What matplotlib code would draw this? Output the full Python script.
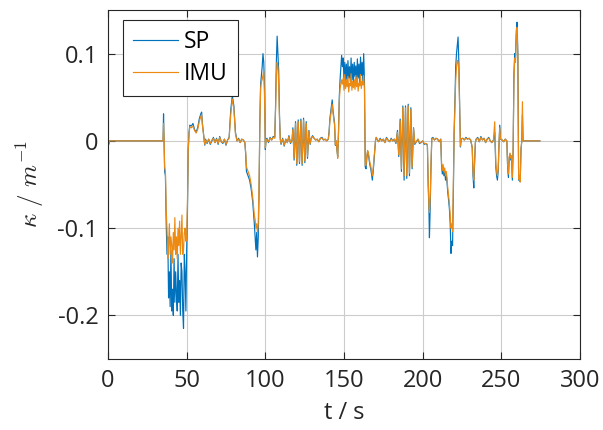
import matplotlib
matplotlib.use("Agg")
import matplotlib.pyplot as plt

plt.rcParams['font.family'] = ['Open Sans', 'DejaVu Sans']
plt.rcParams['mathtext.fontset'] = 'cm'

# time stamps (s)
t = [0, 0.5, 1, 35,
     35.3, 35.7, 36, 36.5, 37, 37.5, 38, 38.5, 39, 39.5, 40, 40.5, 41, 41.5, 42, 42.5, 43, 43.5, 44, 44.5, 45, 45.5, 46, 46.5, 47, 47.5, 48, 48.5, 49, 49.5, 50, 50.5, 51, 51.5,
     52, 53, 54, 55, 56, 57, 58, 59, 59.5, 60, 61, 61.5,
     62, 63, 64, 65, 66, 67, 68, 69, 70, 71, 72, 73, 74, 75, 76, 77,
     78, 79, 80, 81, 82, 83, 84, 85, 86, 87, 87.5,
     88, 89, 90, 91, 92, 93, 93.5, 94, 94.5, 95, 95.5, 96, 96.5, 97, 97.5, 98, 98.5, 99, 99.5, 100, 100.5,
     101, 102, 103, 104, 105, 106, 106.5, 107, 107.5, 108, 108.5, 109, 109.5,
     110, 111, 112, 113, 114, 115, 116, 117,
     117.5, 118.3, 119.2, 120.0, 120.9, 121.7, 122.6, 123.4, 124.3, 125.1, 126.0, 126.8, 127.7, 128.5,
     129, 130, 131, 132, 133, 134, 135, 136, 137, 138, 139, 140, 140.5,
     141, 142, 142.5, 143, 144, 144.5, 145, 145.5, 146, 146.5, 147, 147.5, 148, 148.5,
     149, 149.5, 150, 150.5, 151, 151.5, 152, 152.5, 153, 153.5, 154, 154.5, 155, 155.5, 156, 156.5, 157, 157.5, 158, 158.5, 159, 159.5, 160, 160.5, 161, 161.5, 162, 162.5, 163,
     163.5, 164, 164.5, 165, 165.5, 166, 166.5, 167, 167.5, 168, 168.5, 169, 169.5, 170, 170.5,
     171, 172, 173, 174, 175, 176, 177, 178, 179, 180, 181, 182, 183,
     184.0, 184.8, 185.7, 186.5, 187.4, 188.2, 189.1, 189.9, 190.8, 191.6, 192.5, 193.3, 194.2, 195.0,
     196, 197, 198, 199, 200, 201, 202, 203,
     203.5, 204, 204.3, 204.8, 205.3, 205.8,
     206.5, 207.5, 208.5, 209.5, 210.5, 211.5,
     212, 212.5, 213, 213.5, 214, 214.5, 215, 215.5, 216, 216.5, 217, 217.5, 218, 218.5, 219, 219.5, 220, 220.5, 221, 221.5, 222, 222.5, 223, 223.5, 224, 224.5,
     225.5, 226.5, 227.5, 228.5, 229.5, 230.5, 231.5, 232, 232.5, 233, 233.5,
     234, 235, 236, 237, 238, 239, 240, 241, 242, 243, 244, 245,
     245.8, 246.5, 247, 247.5, 248, 248.5, 249, 249.5, 250.5, 251.5, 252.5, 253.5, 254, 254.5, 255, 255.5, 256, 256.5, 257, 257.5, 258, 258.5, 259, 259.5, 260, 260.5, 261, 261.5, 262, 262.5, 263, 263.4, 263.8, 264.3, 274.5]

# curvature from smartphone (SP)
sp = [0.000, -0.004, 0.000, 0.000,
      0.031, -0.005, -0.035, -0.040, -0.095, -0.130, -0.110, -0.180, -0.150, -0.190, -0.125, -0.195, -0.170, -0.200, -0.135, -0.185, -0.150, -0.175, -0.195, -0.130, -0.185, -0.160, -0.200, -0.140, -0.150, -0.195, -0.215, -0.130, -0.150, -0.195, -0.125, -0.080, -0.010, 0.010,
      0.018, 0.017, 0.020, 0.013, 0.010, 0.015, 0.025, 0.031, 0.033, 0.020, 0.003, -0.005,
      0.002, -0.003, 0.002, -0.004, 0.000, 0.004, -0.002, 0.003, -0.004, 0.005, -0.001, -0.003, 0.002, -0.005, 0.001, 0.004,
      0.035, 0.052, 0.040, 0.010, 0.000, 0.003, -0.002, 0.002, 0.001, -0.002, -0.015,
      -0.035, -0.040, -0.045, -0.055, -0.070, -0.095, -0.110, -0.125, -0.105, -0.133, -0.110, -0.060, 0.020, 0.065, 0.075, 0.085, 0.100, 0.090, 0.060, -0.010, 0.002,
      0.003, -0.002, 0.004, 0.001, 0.005, 0.004, 0.040, 0.090, 0.120, 0.100, 0.080, 0.030, 0.002,
      -0.004, 0.003, -0.006, 0.002, -0.002, 0.006, -0.003, 0.001,
      0.015, -0.022, 0.022, -0.028, 0.024, -0.026, 0.025, -0.028, 0.026, -0.025, 0.022, -0.020, 0.012, -0.004,
      0.002, 0.006, 0.003, 0.001, 0.002, -0.001, 0.003, 0.004, 0.001, 0.002, 0.000, 0.002, 0.010,
      0.025, 0.040, 0.047, 0.035, 0.020, -0.005, 0.000, -0.010, -0.018, 0.010, 0.050, 0.070, 0.085, 0.098,
      0.085, 0.095, 0.068, 0.090, 0.070, 0.088, 0.066, 0.092, 0.072, 0.085, 0.068, 0.095, 0.070, 0.088, 0.066, 0.090, 0.074, 0.086, 0.067, 0.094, 0.072, 0.088, 0.066, 0.096, 0.075, 0.090, 0.068, 0.100, 0.070,
      -0.030, -0.032, -0.020, -0.012, -0.015, -0.022, -0.028, -0.032, -0.038, -0.045, -0.036, -0.025, -0.012, 0.000, 0.004,
      0.002, -0.001, 0.003, 0.000, 0.002, -0.002, 0.004, 0.001, -0.001, 0.003, 0.000, 0.002, -0.003,
      0.012, -0.018, 0.025, -0.035, 0.040, -0.045, 0.040, -0.043, 0.042, -0.040, 0.038, -0.032, 0.015, -0.004,
      -0.001, 0.002, -0.003, -0.002, 0.000, -0.004, -0.003, -0.005,
      -0.050, -0.080, -0.111, -0.075, -0.030, 0.003,
      0.004, 0.001, 0.003, 0.002, -0.001, 0.002,
      -0.028, -0.038, -0.030, -0.040, -0.034, -0.045, -0.038, -0.048, -0.060, -0.068, -0.078, -0.095, -0.129, -0.115, -0.120, -0.060, 0.010, 0.045, 0.085, 0.100, 0.110, 0.119, 0.090, 0.040, -0.007, 0.002,
      0.003, 0.001, 0.004, 0.002, 0.003, 0.001, -0.008, -0.040, -0.054, -0.025, -0.002,
      0.002, 0.004, -0.001, 0.005, 0.001, 0.003, -0.002, 0.002, 0.004, 0.000, -0.002, 0.001,
      0.010, -0.030, -0.040, -0.045, -0.035, -0.005, 0.018, 0.002, 0.001, -0.001, 0.002, 0.000, -0.030, -0.042, -0.020, -0.015, -0.022, -0.018, -0.045, -0.010, 0.075, 0.100, 0.095, 0.125, 0.136, 0.100, -0.045, -0.040, -0.047, -0.010, 0.000, 0.030, 0.000, 0.000, 0.000]

# curvature from IMU
imu = [0.000, -0.003, 0.000, 0.000,
       0.020, -0.002, -0.030, -0.035, -0.080, -0.100, -0.135, -0.120, -0.095, -0.130, -0.110, -0.120, -0.140, -0.105, -0.125, -0.088, -0.130, -0.110, -0.135, -0.100, -0.120, -0.092, -0.130, -0.110, -0.085, -0.130, -0.125, -0.105, -0.100, -0.115, -0.110, -0.070, -0.010, 0.008,
       0.016, 0.015, 0.017, 0.012, 0.009, 0.013, 0.022, 0.028, 0.030, 0.018, 0.003, -0.004,
       0.001, -0.002, 0.002, -0.003, 0.001, 0.003, -0.002, 0.002, -0.003, 0.004, -0.001, -0.002, 0.002, -0.004, 0.001, 0.003,
       0.030, 0.048, 0.037, 0.008, 0.000, 0.002, -0.002, 0.002, 0.001, -0.002, -0.013,
       -0.030, -0.035, -0.040, -0.050, -0.065, -0.085, -0.090, -0.100, -0.095, -0.105, -0.095, -0.050, 0.015, 0.060, 0.068, 0.070, 0.075, 0.080, 0.050, -0.008, 0.001,
       0.002, -0.001, 0.003, 0.001, 0.004, 0.003, 0.035, 0.075, 0.090, 0.085, 0.065, 0.025, 0.002,
       -0.003, 0.002, -0.005, 0.002, -0.002, 0.005, -0.002, 0.001,
       0.013, -0.020, 0.020, -0.026, 0.022, -0.024, 0.023, -0.026, 0.024, -0.023, 0.020, -0.018, 0.011, -0.003,
       0.002, 0.005, 0.003, 0.001, 0.002, -0.001, 0.003, 0.003, 0.001, 0.002, 0.000, 0.002, 0.008,
       0.022, 0.035, 0.042, 0.032, 0.018, -0.004, 0.000, -0.009, -0.020, 0.008, 0.045, 0.060, 0.065, 0.070,
       0.065, 0.072, 0.058, 0.076, 0.060, 0.070, 0.062, 0.074, 0.056, 0.066, 0.063, 0.077, 0.058, 0.068, 0.061, 0.070, 0.059, 0.075, 0.062, 0.073, 0.057, 0.066, 0.063, 0.076, 0.060, 0.068, 0.064, 0.075, 0.060,
       -0.028, -0.028, -0.018, -0.011, -0.014, -0.020, -0.025, -0.029, -0.034, -0.040, -0.032, -0.022, -0.011, 0.000, 0.004,
       0.002, -0.001, 0.002, 0.000, 0.002, -0.002, 0.003, 0.001, -0.001, 0.002, 0.000, 0.002, -0.002,
       0.010, -0.016, 0.023, -0.032, 0.038, -0.040, 0.038, -0.040, 0.040, -0.037, 0.036, -0.030, 0.014, -0.003,
       -0.001, 0.002, -0.002, -0.002, 0.000, -0.003, -0.003, -0.004,
       -0.045, -0.075, -0.082, -0.065, -0.025, 0.002,
       0.003, 0.001, 0.003, 0.002, -0.001, 0.002,
       -0.025, -0.034, -0.027, -0.036, -0.031, -0.040, -0.035, -0.044, -0.055, -0.064, -0.072, -0.085, -0.100, -0.095, -0.104, -0.050, 0.008, 0.040, 0.070, 0.085, 0.092, 0.090, 0.080, 0.035, -0.006, 0.002,
       0.003, 0.001, 0.003, 0.002, 0.003, 0.001, -0.007, -0.035, -0.045, -0.022, -0.002,
       0.002, 0.003, -0.001, 0.004, 0.001, 0.003, -0.002, 0.002, 0.003, 0.000, -0.002, 0.001,
       0.022, -0.026, -0.035, -0.040, -0.032, -0.004, 0.015, 0.002, 0.001, -0.001, 0.002, 0.000, -0.028, -0.038, -0.018, -0.014, -0.020, -0.017, -0.042, -0.008, 0.070, 0.095, 0.090, 0.120, 0.130, 0.095, -0.044, -0.040, -0.047, -0.010, 0.000, 0.045, 0.000, 0.000, 0.000]

assert len(t) == len(sp) == len(imu), (len(t), len(sp), len(imu))

x_ticks = [0, 50, 100, 150, 200, 250, 300]
y_ticks = [-0.2, -0.1, 0, 0.1]
y_tick_labels = ['-0.2', '-0.1', '0', '0.1']

W, H = 603, 430
fig = plt.figure(figsize=(W / 100, H / 100), dpi=100)
ax = fig.add_axes([108 / W, 71 / H, 472 / W, 349 / H])

ax.plot(t, sp, color='#0072BD', lw=0.85, label='SP')
ax.plot(t, imu, color='#EC8A12', lw=0.85, label='IMU')

ax.set_xlim(0, 300)
ax.set_ylim(-0.25, 0.15)
ax.set_xticks(x_ticks)
ax.set_xticklabels([str(v) for v in x_ticks])
ax.set_yticks(y_ticks)
ax.set_yticklabels(y_tick_labels)
ax.grid(True, color='#cccccc', lw=0.8)
ax.set_axisbelow(True)
ax.tick_params(direction='in', top=True, right=True, length=5, width=0.8,
               labelsize=17, color='#262626', labelcolor='#262626', pad=7)
for s in ax.spines.values():
    s.set_color('#262626')
    s.set_linewidth(0.8)

ax.set_xlabel('t / s', fontsize=17, color='#262626', labelpad=6)
ax.set_ylabel(r'$\kappa\ /\ m^{-1}$', fontsize=18, color='#262626', labelpad=8)

leg = ax.legend(loc='upper left', bbox_to_anchor=(15 / 472, 1 - 10 / 349),
                borderaxespad=0, fancybox=False, edgecolor='#262626',
                fontsize=16.5, handlelength=1.95, handletextpad=0.25,
                borderpad=0.45, labelspacing=0.32, framealpha=1)
leg.get_frame().set_linewidth(0.8)

fig.savefig('out.png', dpi=100)
